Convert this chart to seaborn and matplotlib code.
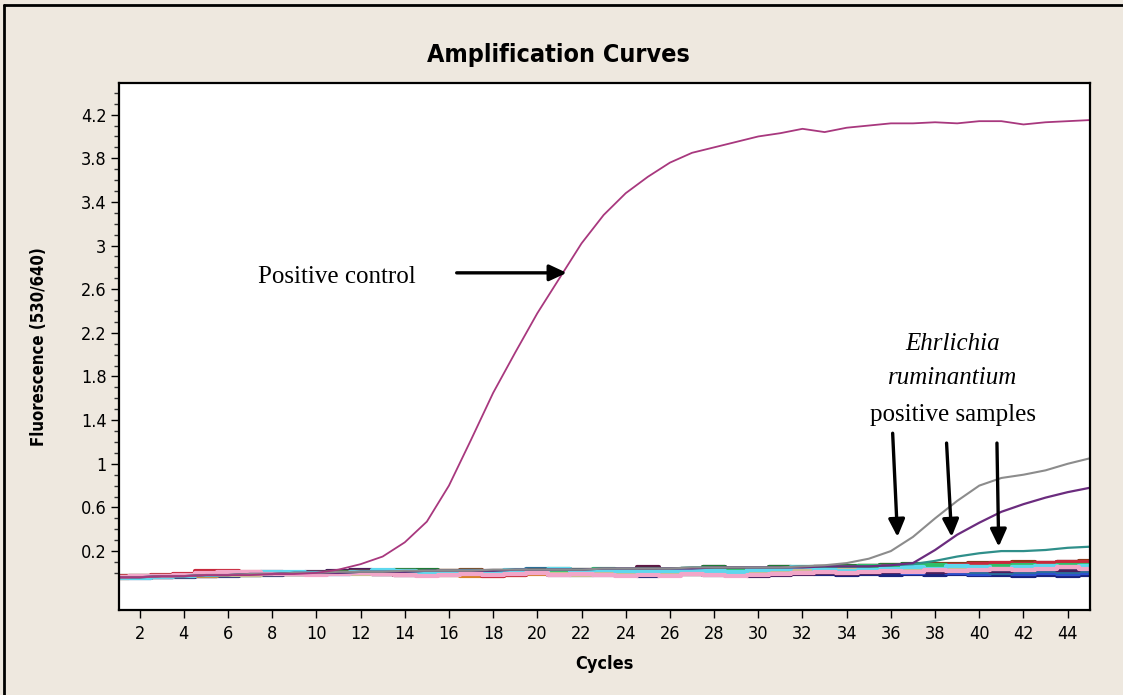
import matplotlib
matplotlib.use("Agg")
import matplotlib.pyplot as plt
from matplotlib.lines import Line2D
from matplotlib.ticker import FixedLocator, FuncFormatter
import numpy as np
import pandas as pd
import seaborn as sns

OUTPUT_FILE = "out.png"

cycles = list(range(1, 46))

# positive control (sigmoid reaching plateau ~4.15)
positive_control = [
    -0.04, -0.04, -0.03, -0.03, -0.02, -0.02, -0.02, -0.01, -0.01,
    0.00, 0.03, 0.08, 0.15, 0.28, 0.47, 0.80, 1.22, 1.65,
    2.02, 2.38, 2.70, 3.02, 3.28, 3.48, 3.63, 3.76, 3.85,
    3.90, 3.95, 4.00, 4.03, 4.07, 4.04, 4.08, 4.10, 4.12,
    4.12, 4.13, 4.12, 4.14, 4.14, 4.11, 4.13, 4.14, 4.15,
]

# Ehrlichia ruminantium positive samples
sample_gray = [
    -0.04, -0.04, -0.03, -0.03, -0.02, -0.02, -0.01, -0.01, 0.00,
    0.00, 0.01, 0.01, 0.01, 0.02, 0.02, 0.02, 0.02, 0.03,
    0.03, 0.03, 0.03, 0.03, 0.04, 0.04, 0.04, 0.04, 0.05,
    0.05, 0.05, 0.05, 0.05, 0.06, 0.07, 0.09, 0.13, 0.20,
    0.33, 0.50, 0.66, 0.80, 0.87, 0.90, 0.94, 1.00, 1.05,
]
sample_purple = [
    -0.04, -0.04, -0.03, -0.03, -0.02, -0.02, -0.01, -0.01, 0.00,
    0.00, 0.00, 0.01, 0.01, 0.01, 0.02, 0.02, 0.02, 0.02,
    0.03, 0.03, 0.03, 0.03, 0.04, 0.04, 0.04, 0.04, 0.04,
    0.05, 0.05, 0.05, 0.05, 0.05, 0.06, 0.06, 0.06, 0.07,
    0.09, 0.21, 0.35, 0.46, 0.56, 0.63, 0.69, 0.74, 0.78,
]
sample_teal = [
    -0.04, -0.04, -0.03, -0.03, -0.02, -0.02, -0.01, -0.01, 0.00,
    0.00, 0.00, 0.01, 0.01, 0.01, 0.02, 0.02, 0.02, 0.02,
    0.03, 0.03, 0.03, 0.03, 0.04, 0.04, 0.04, 0.04, 0.05,
    0.05, 0.05, 0.05, 0.05, 0.06, 0.06, 0.06, 0.06, 0.07,
    0.08, 0.11, 0.15, 0.18, 0.20, 0.20, 0.21, 0.23, 0.24,
]

# negative samples, flat baselines
neg_maroon = [
    -0.04, -0.04, -0.03, -0.02, -0.01, 0.00, 0.00, 0.01, 0.00,
    0.00, 0.01, 0.02, 0.01, 0.00, -0.01, 0.00, 0.01, 0.02,
    0.01, 0.00, 0.01, 0.03, 0.02, 0.01, 0.05, 0.03, 0.04,
    0.05, 0.04, 0.03, 0.05, 0.04, 0.05, 0.05, 0.06, 0.06,
    0.05, 0.06, 0.07, 0.07, 0.07, 0.08, 0.09, 0.10, 0.09,
]
neg_red = [
    -0.03, -0.03, -0.02, -0.01, 0.02, 0.02, 0.01, 0.00, -0.01,
    0.00, 0.00, 0.01, -0.01, -0.02, 0.00, 0.02, 0.01, -0.03,
    -0.02, 0.00, 0.01, 0.00, -0.01, 0.01, 0.02, 0.03, 0.02,
    0.01, 0.02, 0.03, 0.04, 0.03, 0.04, 0.05, 0.05, 0.06,
    0.07, 0.06, 0.07, 0.08, 0.09, 0.08, 0.09, 0.10, 0.10,
]
neg_pink = [
    -0.04, -0.03, -0.03, -0.02, 0.00, 0.01, 0.01, -0.01, -0.01,
    -0.02, -0.01, 0.00, -0.01, -0.02, -0.03, -0.02, -0.01, -0.02,
    -0.01, 0.00, -0.02, -0.01, -0.02, -0.03, -0.02, -0.03, -0.01,
    -0.02, -0.03, -0.02, -0.01, 0.00, 0.01, 0.00, 0.01, 0.02,
    0.01, 0.03, 0.02, 0.03, 0.04, 0.03, 0.04, 0.05, 0.04,
]
neg_cyan = [
    -0.05, -0.05, -0.04, -0.03, -0.02, -0.01, 0.00, 0.01, 0.01,
    0.00, -0.01, 0.01, 0.03, 0.02, 0.01, 0.00, 0.02, 0.01,
    0.03, 0.01, 0.04, 0.02, 0.03, 0.02, 0.01, 0.02, 0.03,
    0.02, 0.01, 0.03, 0.04, 0.05, 0.03, 0.02, 0.03, 0.04,
    0.05, 0.04, 0.06, 0.05, 0.04, 0.05, 0.06, 0.05, 0.06,
]
neg_steel = [
    -0.04, -0.04, -0.03, -0.03, -0.02, -0.02, -0.01, -0.01, 0.00,
    -0.01, 0.00, 0.01, 0.00, -0.01, 0.00, 0.01, 0.00, 0.01,
    0.02, 0.04, 0.03, 0.02, 0.03, 0.02, 0.01, 0.03, 0.02,
    0.01, 0.02, 0.02, 0.03, 0.04, 0.02, 0.03, 0.02, 0.01,
    0.02, 0.03, 0.02, 0.01, 0.00, 0.01, 0.02, 0.01, 0.02,
]
neg_green = [
    -0.03, -0.03, -0.03, -0.02, -0.02, -0.01, -0.01, 0.00, 0.00,
    0.00, 0.01, 0.01, 0.02, 0.03, 0.03, 0.02, 0.02, 0.01,
    0.01, 0.03, 0.04, 0.03, 0.02, 0.03, 0.04, 0.03, 0.04,
    0.05, 0.04, 0.04, 0.05, 0.04, 0.05, 0.06, 0.06, 0.07,
    0.08, 0.07, 0.07, 0.08, 0.08, 0.07, 0.08, 0.08, 0.09,
]
neg_tan = [
    -0.04, -0.04, -0.03, -0.03, -0.02, -0.02, -0.02, -0.01, -0.01,
    0.00, 0.00, -0.01, 0.00, 0.02, 0.01, 0.02, 0.01, 0.00,
    -0.01, 0.00, -0.01, -0.02, -0.01, 0.00, 0.01, -0.01, 0.00,
    -0.02, -0.01, 0.00, 0.01, 0.02, 0.01, 0.03, 0.02, 0.03,
    0.04, 0.03, 0.04, 0.05, 0.04, 0.05, 0.06, 0.05, 0.06,
]
neg_brown = [
    -0.04, -0.03, -0.03, -0.02, -0.02, -0.01, -0.01, -0.01, 0.00,
    0.00, 0.00, 0.01, 0.00, 0.00, 0.01, 0.02, 0.03, 0.01,
    0.02, 0.01, 0.00, 0.01, 0.02, 0.01, 0.00, 0.02, 0.03,
    0.04, 0.03, 0.02, 0.03, 0.04, 0.05, 0.05, 0.06, 0.07,
    0.07, 0.08, 0.08, 0.09, 0.09, 0.10, 0.09, 0.10, 0.11,
]
neg_orange = [
    -0.05, -0.04, -0.04, -0.03, -0.03, -0.02, -0.02, -0.01, -0.01,
    -0.01, 0.00, 0.00, -0.01, -0.01, 0.00, -0.02, -0.03, -0.03,
    -0.02, -0.01, 0.00, 0.01, 0.00, -0.01, -0.02, 0.00, -0.01,
    0.01, 0.02, 0.01, 0.02, 0.03, 0.02, 0.04, 0.03, 0.04,
    0.05, 0.04, 0.05, 0.06, 0.05, 0.06, 0.07, 0.06, 0.07,
]
neg_navy = [
    -0.05, -0.05, -0.04, -0.04, -0.03, -0.03, -0.02, -0.02, -0.01,
    -0.01, -0.01, 0.00, -0.01, -0.02, -0.01, 0.00, -0.01, -0.02,
    -0.01, 0.00, -0.01, -0.02, -0.01, -0.02, -0.03, -0.02, -0.01,
    -0.02, -0.01, -0.02, -0.01, 0.00, -0.01, -0.02, -0.01, -0.02,
    -0.01, -0.02, -0.01, -0.02, -0.02, -0.03, -0.02, -0.03, -0.02,
]
neg_blue = [
    -0.04, -0.04, -0.04, -0.03, -0.03, -0.02, -0.02, -0.01, -0.01,
    -0.01, 0.00, 0.00, -0.01, 0.00, 0.01, 0.00, -0.01, 0.00,
    0.01, 0.00, -0.01, 0.00, 0.01, 0.00, -0.01, 0.01, 0.00,
    -0.01, 0.00, 0.01, 0.02, 0.01, 0.00, 0.01, 0.00, 0.01,
    0.00, 0.01, 0.00, -0.01, 0.00, -0.01, 0.00, -0.01, 0.00,
]
neg_lime = [
    -0.04, -0.04, -0.03, -0.03, -0.02, -0.02, -0.02, -0.01, -0.01,
    -0.01, 0.00, 0.01, 0.02, 0.01, 0.00, 0.01, 0.02, 0.01,
    0.00, 0.01, 0.03, 0.02, 0.04, 0.03, 0.02, 0.03, 0.04,
    0.03, 0.02, 0.03, 0.04, 0.05, 0.04, 0.05, 0.06, 0.05,
    0.06, 0.07, 0.06, 0.05, 0.06, 0.07, 0.06, 0.07, 0.07,
]
neg_plum = [
    -0.04, -0.04, -0.04, -0.03, -0.03, -0.02, -0.01, -0.01, 0.00,
    0.01, 0.02, 0.03, 0.02, 0.01, 0.00, -0.02, -0.01, -0.02,
    -0.01, 0.00, -0.02, -0.01, -0.02, -0.01, 0.00, -0.02, -0.01,
    0.00, -0.02, -0.03, -0.02, -0.01, 0.00, -0.01, 0.00, 0.01,
    0.02, 0.01, 0.02, 0.03, 0.02, 0.03, 0.04, 0.03, 0.04,
]

# drawing order: navy/blue at the bottom of the stack, light colours on top
negatives = {
    "navy": (neg_navy, "#1a237e"),
    "blue": (neg_blue, "#2e4fd0"),
    "steel": (neg_steel, "#2a6e9e"),
    "plum": (neg_plum, "#4b1e5e"),
    "maroon": (neg_maroon, "#5e1846"),
    "brown": (neg_brown, "#8b3a1a"),
    "green": (neg_green, "#1e7a34"),
    "orange": (neg_orange, "#d9822b"),
    "red": (neg_red, "#c8283c"),
    "lime": (neg_lime, "#2fbf6a"),
    "tan": (neg_tan, "#cdbe92"),
    "cyan": (neg_cyan, "#5ed8ee"),
    "pink": (neg_pink, "#f2a6c8"),
}

x_ticks = list(range(2, 46, 2))
y_ticks = [0.2, 0.6, 1.0, 1.4, 1.8, 2.2, 2.6, 3.0, 3.4, 3.8, 4.2]

BG = "#eee8df"

sns.set_style("white")
plt.rcParams["font.family"] = ["DejaVu Sans"]
plt.rcParams["font.stretch"] = "condensed"
plt.rcParams["text.color"] = "black"
plt.rcParams["axes.labelcolor"] = "black"

fig = plt.figure(figsize=(11.23, 6.95), dpi=100, facecolor=BG)
ax = fig.add_axes([0.106, 0.1223, 0.8644, 0.7583])
ax.set_facecolor("white")

# negative samples first, blocky step look like the instrument software
long_df = pd.concat(
    [pd.DataFrame({"cycle": cycles, "fluor": vals, "sample": name})
     for name, (vals, _) in negatives.items()],
    ignore_index=True,
)
palette = {name: c for name, (_, c) in negatives.items()}
sns.lineplot(data=long_df, x="cycle", y="fluor", hue="sample", palette=palette,
             estimator=None, drawstyle="steps-mid", lw=3.0, legend=False, ax=ax)

sns.lineplot(x=cycles, y=sample_teal, color="#2f8f8a", lw=1.6, ax=ax)
sns.lineplot(x=cycles, y=sample_purple, color="#6b2c7e", lw=1.6, ax=ax)
sns.lineplot(x=cycles, y=sample_gray, color="#8c8c8c", lw=1.5, ax=ax)
sns.lineplot(x=cycles, y=positive_control, color="#a8387e", lw=1.3, ax=ax)

ax.set_xlim(1.07, 45.0)
ax.set_ylim(-0.34, 4.49)
ax.xaxis.set_major_locator(FixedLocator(x_ticks))
ax.yaxis.set_major_locator(FixedLocator(y_ticks))
minor = [round(v, 1) for v in np.arange(0.0, 4.45, 0.1)]
ax.yaxis.set_minor_locator(FixedLocator([v for v in minor if v not in y_ticks]))
ax.yaxis.set_major_formatter(FuncFormatter(lambda v, p: f"{v:g}"))
ax.tick_params(axis="both", which="major", direction="out", length=6, width=1,
               color="black", labelsize=13, labelcolor="black", pad=3,
               left=True, bottom=True)
ax.tick_params(axis="x", which="major", pad=5)
ax.tick_params(axis="y", which="minor", direction="out", length=3.5, width=1,
               color="#333333", left=True)

for s in ax.spines.values():
    s.set_color("black")
    s.set_linewidth(1.6)

ax.set_xlabel("Cycles", fontsize=13, fontweight="bold")
ax.set_ylabel("Fluorescence (530/640)", fontsize=12, fontweight="bold")
ax.xaxis.set_label_coords(0.5, -0.085)
ax.yaxis.set_label_coords(-0.073, 0.5)

fig.text(0.497, 0.921, "Amplification Curves", ha="center", va="center",
         fontsize=18, fontweight="heavy", color="black")

# annotations
serif = ["Liberation Serif", "DejaVu Serif"]
ax.text(7.36, 2.71, "Positive control", ha="left", va="center",
        fontsize=18, family=serif, stretch="normal")
arrow = dict(arrowstyle="-|>,head_length=0.75,head_width=0.35", lw=2.4,
             color="black", mutation_scale=14, shrinkA=0, shrinkB=0)
ax.annotate("", xy=(21.33, 2.75), xytext=(16.35, 2.75), arrowprops=arrow)

ax.text(38.8, 2.10, "Ehrlichia", ha="center", va="center", fontsize=18,
        style="italic", family=serif, stretch="normal")
ax.text(38.8, 1.79, "ruminantium", ha="center", va="center", fontsize=18,
        style="italic", family=serif, stretch="normal")
ax.text(38.8, 1.45, "positive samples", ha="center", va="center", fontsize=18,
        family=serif, stretch="normal")
for (x0, y0), (x1, y1) in [((36.08, 1.28), (36.3, 0.33)),
                           ((38.52, 1.19), (38.75, 0.33)),
                           ((40.8, 1.19), (40.88, 0.24))]:
    ax.annotate("", xy=(x1, y1), xytext=(x0, y0), arrowprops=arrow)

# outer frame of the software window (left and top edges only)
fig.add_artist(Line2D([0.0036, 0.0036], [0.0, 0.9928], color="black", lw=2,
                      transform=fig.transFigure))
fig.add_artist(Line2D([0.0036, 1.0], [0.9928, 0.9928], color="black", lw=2,
                      transform=fig.transFigure))

fig.savefig(OUTPUT_FILE, dpi=100, facecolor=BG)
plt.close(fig)
